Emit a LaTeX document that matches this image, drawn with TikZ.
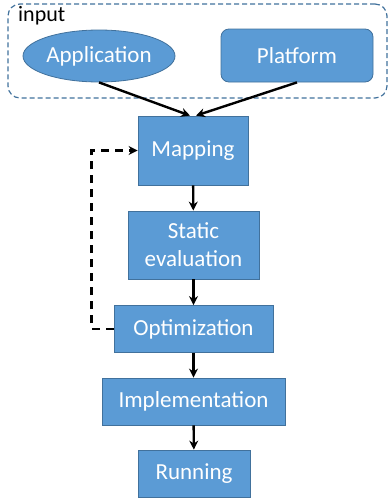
\documentclass[tikz,border=0pt]{standalone}
\usepackage{fontspec}
\setmainfont{Carlito}
\usetikzlibrary{arrows.meta,shapes.geometric}
\definecolor{boxfill}{HTML}{5B9BD5}
\definecolor{boxline}{HTML}{41719C}
\tikzset{
  stage/.style={draw=boxline,fill=boxfill,text=white,line width=0.8pt,
    font=\fontsize{23}{28}\selectfont,align=center,inner sep=0pt},
  flow/.style={line width=2.4pt,-{Stealth[length=9pt,width=9pt]}},
}
\begin{document}
\begin{tikzpicture}[x=1pt,y=-1pt]
\useasboundingbox (0,0) rectangle (388,501);
% input group
\node[draw=boxline,dashed,dash pattern=on 5pt off 3pt,line width=1.2pt,rounded corners=12pt,
  minimum width=379pt,minimum height=94pt] (inbox) at (197.5,51) {};
\node[anchor=base west,font=\fontsize{22}{26}\selectfont,inner sep=0pt] (inlabel) at (18,21) {input};
\node[stage,ellipse,minimum width=152pt,minimum height=52pt] (app) at (99,56) {Application};
\node[stage,rounded corners=8pt,minimum width=152pt,minimum height=53pt] (plat) at (297,55.5) {Platform};
% stages
\node[stage,minimum width=110pt,minimum height=69pt] (map) at (193,150.5) {Mapping};
\node[stage,minimum width=131pt,minimum height=68pt] (stat) at (193.5,245) {Static\\evaluation};
\node[stage,minimum width=159pt,minimum height=47pt] (opt) at (193.5,329) {Optimization};
\node[stage,minimum width=183pt,minimum height=47pt] (impl) at (193.5,401.5) {Implementation};
\node[stage,minimum width=112pt,minimum height=47pt] (run) at (194,473.5) {Running};
% connectors
\draw[flow] (app.south) -- ([xshift=-3pt]map.north);
\draw[flow] (plat.south) -- ([xshift=3pt]map.north);
\draw[flow] (map) -- (stat);
\draw[flow] (stat) -- (opt);
\draw[flow] (opt) -- (impl);
\draw[flow] (impl) -- (run);
\draw[line width=2.4pt,dash pattern=on 8pt off 6pt,-{Stealth[length=9pt,width=9pt]}]
  (opt.west) -- ++(-22,0) |- (map.west);
\end{tikzpicture}
\end{document}
